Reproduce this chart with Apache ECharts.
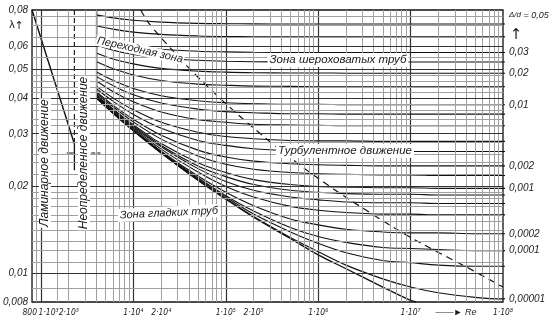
<!DOCTYPE html>
<html><head><meta charset="utf-8">
<script src="https://cdn.jsdelivr.net/npm/echarts@6/dist/echarts.min.js"></script>
<style>html,body{margin:0;padding:0;background:#fff}#c{width:550px;height:327px}</style>
</head><body><div id="c"></div>
<script>
// ================= DATA =================
// Reynolds numbers at which the turbulent curves were read
const reTurb = [4000, 6000, 1e4, 2e4, 5e4, 1e5, 2e5, 5e5, 1e6, 2e6, 5e6, 1e7, 2e7, 5e7, 1e8];
// friction factor lambda of each relative-roughness curve (Δ/d)
const lam_05    = [0.0770,0.0752,0.0738,0.0727,0.0720,0.0718,0.0717,0.0716,0.0716,0.0716,0.0716,0.0716,0.0716,0.0716,0.0716];
const lam_04    = [0.0707,0.0688,0.0672,0.0660,0.0652,0.0649,0.0648,0.0647,0.0647,0.0647,0.0647,0.0647,0.0647,0.0647,0.0647];
const lam_03    = [0.0641,0.0619,0.0601,0.0587,0.0578,0.0575,0.0573,0.0572,0.0572,0.0572,0.0572,0.0572,0.0572,0.0572,0.0572];
const lam_025   = [0.0606,0.0583,0.0563,0.0547,0.0538,0.0534,0.0532,0.0531,0.0531,0.0531,0.0531,0.0531,0.0531,0.0531,0.0531];
const lam_02    = [0.0569,0.0544,0.0523,0.0505,0.0494,0.0490,0.0488,0.0487,0.0487,0.0486,0.0486,0.0486,0.0486,0.0486,0.0486];
const lam_015   = [0.0532,0.0504,0.0479,0.0459,0.0446,0.0442,0.0439,0.0438,0.0437,0.0437,0.0437,0.0437,0.0437,0.0437,0.0437];
const lam_01    = [0.0491,0.0460,0.0431,0.0407,0.0391,0.0385,0.0382,0.0380,0.0380,0.0379,0.0379,0.0379,0.0379,0.0379,0.0379];
const lam_008   = [0.0473,0.0441,0.0410,0.0384,0.0366,0.0359,0.0356,0.0353,0.0353,0.0352,0.0352,0.0352,0.0352,0.0352,0.0352];
const lam_006   = [0.0457,0.0421,0.0388,0.0358,0.0337,0.0330,0.0325,0.0323,0.0322,0.0321,0.0321,0.0321,0.0321,0.0321,0.0321];
const lam_004   = [0.0438,0.0400,0.0364,0.0330,0.0305,0.0295,0.0290,0.0286,0.0285,0.0285,0.0284,0.0284,0.0284,0.0284,0.0284];
const lam_003   = [0.0429,0.0390,0.0351,0.0315,0.0286,0.0275,0.0268,0.0264,0.0263,0.0262,0.0262,0.0262,0.0262,0.0262,0.0262];
const lam_002   = [0.0419,0.0378,0.0338,0.0298,0.0265,0.0251,0.0243,0.0238,0.0236,0.0235,0.0234,0.0234,0.0234,0.0234,0.0234];
const lam_0015  = [0.0414,0.0373,0.0331,0.0289,0.0253,0.0237,0.0228,0.0222,0.0220,0.0219,0.0218,0.0218,0.0217,0.0217,0.0217];
const lam_001   = [0.0409,0.0367,0.0324,0.0279,0.0240,0.0222,0.0210,0.0202,0.0199,0.0198,0.0197,0.0197,0.0196,0.0196,0.0196];
const lam_0008  = [0.0407,0.0365,0.0321,0.0275,0.0234,0.0215,0.0202,0.0193,0.0190,0.0188,0.0187,0.0187,0.0186,0.0186,0.0186];
const lam_0006  = [0.0405,0.0362,0.0318,0.0272,0.0229,0.0207,0.0193,0.0183,0.0179,0.0176,0.0175,0.0175,0.0174,0.0174,0.0174];
const lam_0004  = [0.0403,0.0360,0.0315,0.0267,0.0223,0.0199,0.0183,0.0170,0.0165,0.0162,0.0160,0.0160,0.0159,0.0159,0.0159];
const lam_0002  = [0.0401,0.0357,0.0312,0.0263,0.0216,0.0190,0.0171,0.0154,0.0147,0.0142,0.0139,0.0138,0.0138,0.0137,0.0137];
const lam_0001  = [0.0400,0.0356,0.0310,0.0261,0.0213,0.0185,0.0164,0.0144,0.0134,0.0128,0.0123,0.0122,0.0121,0.0120,0.0120];
const lam_00005 = [0.0399,0.0355,0.0309,0.0260,0.0211,0.0183,0.0160,0.0139,0.0127,0.0118,0.0111,0.0109,0.0107,0.0106,0.0106];
const lam_00001 = [0.0399,0.0355,0.0309,0.0259,0.0209,0.0181,0.0157,0.0133,0.0119,0.0107,0.0096,0.0090,0.0086,0.0083,0.0082];
// smooth pipes curve
const reSmooth  = [4000, 6000, 1e4, 2e4, 5e4, 1e5, 2e5, 5e5, 1e6, 2e6, 5e6, 1e7, 1.15e7];
const lamSmooth = [0.0399,0.0355,0.0309,0.0259,0.0209,0.0180,0.0156,0.0132,0.0116,0.0104,0.0090,0.0081,0.0080];
// laminar line
const reLaminar  = [800, 2300];
const lamLaminar = [0.080, 0.0278];
// critical Re line (solid part) and its dashed continuation
const reCrit  = [2300, 2300];
const lamCrit = [0.0278, 0.0226];
const reCritDash  = [2300, 2300];
const lamCritDash = [0.080, 0.0278];
// start line of turbulent curves
const reStart  = [4000, 4000];
const lamStart = [0.080, 0.0399];
// short marks of the undetermined zone
const reMarkA = [1900, 2250];
const reMarkB = [3500, 4400];
const lamMark = [0.0259, 0.0259];
// dashed boundary of rough-pipe zone
const reBound  = [12000, 14950, 27900, 45350, 1.03e5, 2.97e5, 6.53e5, 1.43e6, 3.97e6, 8.53e6, 1.83e7, 3.9e7, 1e8];
const lamBound = [0.080, 0.0716, 0.0572, 0.0486, 0.0379, 0.0284, 0.0234, 0.0196, 0.0159, 0.0137, 0.0120, 0.0106, 0.0090];

// axes ticks / labels
const xTickRe    = [800, 2000, 1e4, 2e4, 1e5, 2e5, 1e6, 1e7, 1e8];
const xTickText  = ['800\u20091·10³', '2·10³', '1·10⁴', '2·10⁴', '1·10⁵', '2·10⁵', '1·10⁶', '1·10⁷', '1·10⁸'];
const yTickLam   = [0.008, 0.01, 0.02, 0.03, 0.04, 0.05, 0.06, 0.08];
const yTickText  = ['0,008', '0,01', '0,02', '0,03', '0,04', '0,05', '0,06', '0,08'];
// grid lines
const gridMult   = [1, 2, 3, 4, 5, 6, 7, 8, 9];
const gridDecade = [1e3, 1e4, 1e5, 1e6, 1e7];
const gridReExtra = [900, 1500];
const gridReBold = [1e3, 1e4, 1e5, 1e6, 1e7];
const gridLam = [0.009,0.010,0.011,0.012,0.013,0.014,0.015,0.016,0.017,0.018,0.019,0.020,0.022,0.024,0.026,0.028,0.030,0.032,0.034,0.036,0.038,0.040,0.042,0.044,0.046,0.048,0.050,0.055,0.060,0.065,0.070,0.075];
const gridLamBold = [0.01, 0.02, 0.03, 0.04, 0.05, 0.06];

const curves = [
  [0.05, lam_05, 'top'], [0.04, lam_04, ''], [0.03, lam_03, '0,03'], [0.025, lam_025, ''],
  [0.02, lam_02, '0,02'], [0.015, lam_015, ''], [0.01, lam_01, '0,01'], [0.008, lam_008, ''],
  [0.006, lam_006, ''], [0.004, lam_004, ''], [0.003, lam_003, ''], [0.002, lam_002, '0,002'],
  [0.0015, lam_0015, ''], [0.001, lam_001, '0,001'], [0.0008, lam_0008, ''], [0.0006, lam_0006, ''],
  [0.0004, lam_0004, ''], [0.0002, lam_0002, '0,0002'], [0.0001, lam_0001, '0,0001'],
  [0.00005, lam_00005, ''], [0.00001, lam_00001, '0,00001']
];

// ================= LAYOUT / STYLE =================
const RE_STUB = 1.12e8; // curve stubs beyond the frame
const L = Math.log10;
const FONT = '"Liberation Sans", "DejaVu Sans", sans-serif';
const NARROW = '"Liberation Sans Narrow", "DejaVu Sans Condensed", "Liberation Sans", sans-serif';
const toPts = (res, lams) => res.map((r, i) => [L(r), L(lams[i])]);

const chart = echarts.init(document.getElementById('c'), null, {renderer: 'canvas'});

const gridLinesData = [];
const vLines = [];
gridDecade.forEach(d => gridMult.forEach(m => vLines.push(d * m)));
gridReExtra.forEach(r => vLines.push(r));
vLines.forEach(r => {
  if (r <= 800 || r >= 1e8) return;
  const bold = gridReBold.includes(r);
  gridLinesData.push({xAxis: L(r), lineStyle: {color: bold ? '#333' : '#a0a0a0', width: bold ? 1.2 : 1, type: 'solid'}});
});
gridLam.forEach(l => {
  const bold = gridLamBold.some(b => Math.abs(b - l) < 1e-9);
  gridLinesData.push({yAxis: L(l), lineStyle: {color: bold ? '#333' : '#a0a0a0', width: bold ? 1.1 : 1, type: 'solid'}});
});

const series = [];
series.push({
  type: 'line', data: [], z: 1, silent: true, animation: false,
  markLine: {silent: true, symbol: ['none', 'none'], label: {show: false}, animation: false, data: gridLinesData}
});

const lineBase = (data, extra) => Object.assign({
  type: 'line', data, showSymbol: false, silent: true, animation: false, z: 3,
  lineStyle: {color: '#111', width: 1.1}
}, extra || {});

const labelFont = {fontSize: 10, fontStyle: 'italic', fontFamily: FONT, color: '#222'};
curves.forEach(([eps, lams, txt]) => {
  const pts = toPts(reTurb, lams);
  pts.push([L(RE_STUB), L(lams[lams.length - 1])]);
  const isTop = txt === 'top';
  series.push(lineBase(pts, {
    smooth: 0.35, clip: false,
    endLabel: Object.assign({
      show: !!txt, distance: 4,
      offset: isTop ? [0, -9] : [0, 0],
      formatter: () => isTop ? '{d|Δ/d}{v| = 0,05}' : txt,
      rich: {
        d: {fontSize: 8, fontStyle: 'italic', fontFamily: FONT, color: '#222'},
        v: {fontSize: 9, fontStyle: 'italic', fontFamily: FONT, color: '#222'}
      }
    }, labelFont)
  }));
});
series.push(lineBase(toPts(reSmooth, lamSmooth), {smooth: 0.35, lineStyle: {color: '#111', width: 1.3}}));
series.push(lineBase(toPts(reLaminar, lamLaminar), {lineStyle: {color: '#111', width: 1.4}}));
series.push(lineBase(toPts(reCrit, lamCrit), {lineStyle: {color: '#111', width: 1.3}}));
series.push(lineBase(toPts(reCritDash, lamCritDash), {lineStyle: {color: '#222', width: 1.2, type: [5, 3]}}));
series.push(lineBase(toPts(reStart, lamStart), {lineStyle: {color: '#111', width: 1.4}}));
series.push(lineBase(toPts(reMarkA, lamMark), {lineStyle: {color: '#111', width: 1.2}}));
series.push(lineBase(toPts(reMarkB, lamMark), {lineStyle: {color: '#111', width: 1.2, type: [4, 2]}}));
series.push(lineBase(toPts(reBound, lamBound), {smooth: 0.35, lineStyle: {color: '#111', width: 1.2, type: [7, 5]}}));

const findText = (v, vals, texts) => {
  for (let i = 0; i < vals.length; i++) if (Math.abs(L(vals[i]) - v) < 1e-6) return texts[i];
  return '';
};

const txtStyle = (text, size, extra) => Object.assign({
  text, fontSize: size, fontStyle: 'italic', fontFamily: FONT, fill: '#1a1a1a',
  align: 'center', verticalAlign: 'middle'
}, extra || {});

const xFont = {fontSize: 8.5, fontStyle: 'italic', fontFamily: NARROW, color: '#222'};
const option = {
  backgroundColor: '#fff',
  animation: false,
  grid: {left: 32, right: 47, top: 10, bottom: 25, show: true, borderColor: '#111', borderWidth: 1.3, backgroundColor: 'transparent'},
  xAxis: {
    type: 'value', min: L(800), max: 8,
    axisLine: {show: false}, axisTick: {show: false}, splitLine: {show: false},
    axisLabel: Object.assign({
      customValues: xTickRe.map(L), margin: 6, hideOverlap: false,
      formatter: v => {
        const t = findText(v, xTickRe, xTickText);
        return t === xTickText[0] ? '{a|' + t + '}' : t;
      },
      rich: {a: Object.assign({padding: [0, 0, 0, 17]}, xFont)}
    }, xFont)
  },
  yAxis: {
    type: 'value', min: L(0.008), max: L(0.08),
    axisLine: {show: false}, axisTick: {show: false}, splitLine: {show: false},
    axisLabel: {
      customValues: yTickLam.map(L), margin: 4, fontSize: 10, fontStyle: 'italic', fontFamily: FONT, color: '#222',
      formatter: v => findText(v, yTickLam, yTickText)
    }
  },
  series,
  graphic: [
    {type: 'text', x: 12, y: 25, z: 20, style: txtStyle('λ', 11, {fontStyle: 'normal'})},
    {type: 'text', x: 19, y: 26, z: 20, style: txtStyle('↑', 11, {fontStyle: 'normal', fontFamily: '"DejaVu Sans"'})},
    {type: 'text', x: 516, y: 35, z: 20, style: txtStyle('↑', 15, {fontStyle: 'normal', fontFamily: '"DejaVu Sans"'})},
    {type: 'text', x: 456, y: 312, z: 20, style: txtStyle('——► Re', 9)},
    {type: 'text', x: 45, y: 163, rotation: Math.PI / 2, z: 20, style: txtStyle('Ламинарное движение', 12, {backgroundColor: '#fff', padding: [0, 1]})},
    {type: 'text', x: 84, y: 153, rotation: Math.PI / 2, z: 20, style: txtStyle('Неопределенное движение', 12, {backgroundColor: '#fff', padding: [0, 1]})},
    {type: 'text', x: 140, y: 50, rotation: -0.22, z: 20, style: txtStyle('Переходная зона', 11, {backgroundColor: '#fff', padding: [0, 1]})},
    {type: 'text', x: 338, y: 60, z: 20, style: txtStyle('Зона шероховатых труб', 11.5, {backgroundColor: '#fff', padding: [1, 2]})},
    {type: 'text', x: 345, y: 151, z: 20, style: txtStyle('Турбулентное движение', 11.5, {backgroundColor: '#fff', padding: [1, 2]})},
    {type: 'text', x: 169, y: 213, rotation: 0.05, z: 20, style: txtStyle('Зона гладких труб', 11, {backgroundColor: '#fff', padding: [1, 2]})}
  ]
};
chart.setOption(option);
</script>
</body></html>
